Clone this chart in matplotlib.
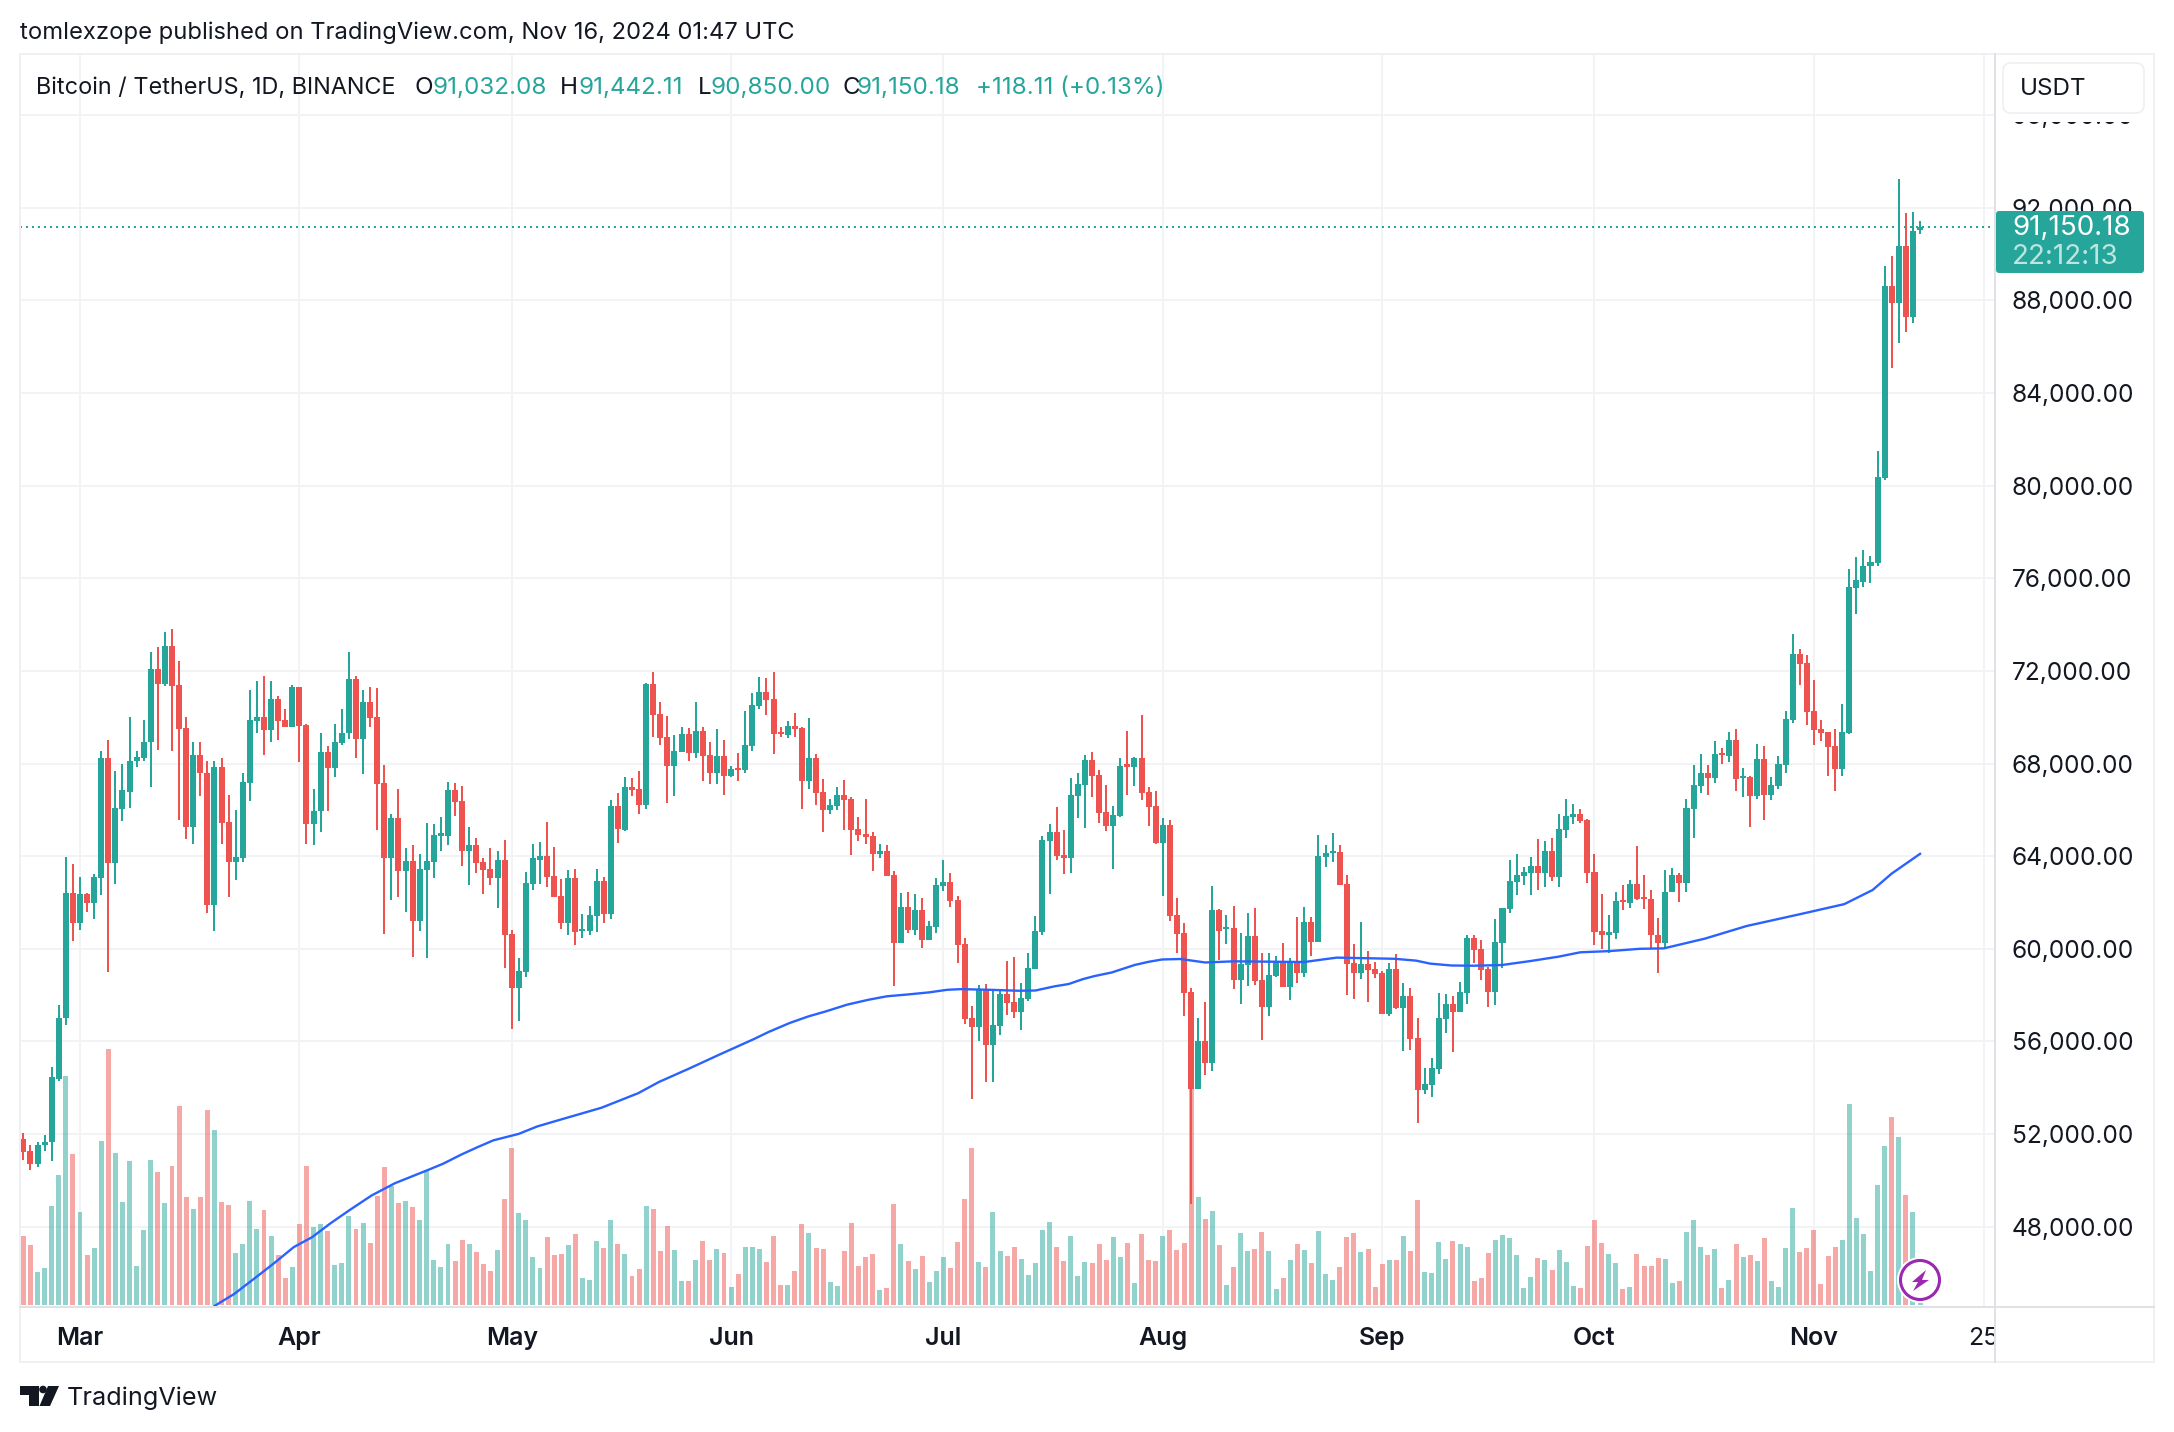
import matplotlib
matplotlib.use("Agg")
import matplotlib.pyplot as plt
from matplotlib.patches import Rectangle, FancyBboxPatch, Circle, Polygon
import numpy as np
import pandas as pd

plt.rcParams["font.family"] = ["Inter", "DejaVu Sans"]

TEAL = "#26a69a"
RED = "#ef5350"
GRID = "#f2f3f5"
FRAME = "#f0f0f4"
SEP = "#e0e1e5"
INK = "#131722"

# daily candles, 2024-02-22 to 2024-11-16
opens = [
    51810, 51250, 50690, 51510, 51650, 54400, 57000, 62425, 61100, 62380,
    61960, 63070, 68260, 63690, 66020, 66790, 68090, 68260, 68910, 72070,
    71420, 73060, 71370, 69520, 65240, 68390, 67610, 61910, 67830, 65490,
    63770, 63940, 67180, 69820, 69990, 69430, 70770, 69860, 69560, 71290,
    69650, 65410, 65930, 68480, 67790, 68870, 69300, 71630, 69080, 70640,
    69990, 67140, 63900, 65670, 63380, 63810, 61220, 63420, 63770, 64890,
    64890, 66840, 66400, 64240, 64500, 63770, 63460, 63070, 63850, 60650,
    58320, 59010, 62810, 63850, 64020, 63160, 62290, 61130, 63060, 60780,
    60780, 61420, 62930, 61510, 66170, 65130, 66990, 66900, 66210, 71430,
    70130, 69140, 67890, 68490, 69270, 68450, 69400, 68360, 67590, 68320,
    67460, 67800, 67720, 68750, 70480, 71080, 70780, 69360, 69230, 69610,
    69530, 67240, 68240, 66770, 65990, 66170, 66640, 66470, 65170, 64960,
    64870, 64090, 64220, 63190, 60260, 61810, 60820, 61680, 60390, 60950,
    62720, 62890, 62110, 60220, 57020, 56630, 58230, 55860, 56680, 58060,
    57700, 57280, 57850, 59140, 60730, 64660, 65050, 64050, 63920, 66600,
    67090, 68170, 67520, 65920, 65320, 65750, 67960, 67870, 68260, 66790,
    66180, 64580, 65360, 61460, 60680, 58130, 53930, 56010, 55060, 61680,
    60860, 60900, 58650, 59300, 60550, 58650, 57480, 58820, 59470, 58350,
    59430, 58950, 61160, 60300, 63970, 64150, 64190, 62800, 59390, 58950,
    59340, 59120, 58950, 57180, 59120, 57440, 57960, 56140, 53890, 54100,
    54800, 56960, 57610, 57260, 58090, 60470, 60000, 59120, 58130, 60250,
    61720, 62890, 63150, 63280, 63580, 63280, 64230, 63110, 65140, 65710,
    65840, 65580, 63320, 60770, 60600, 60690, 62110, 61980, 62800, 62220,
    62130, 60580, 60270, 62450, 63190, 62850, 66050, 67040, 67600, 67380,
    68440, 68330, 69020, 67380, 67420, 66610, 68200, 66650, 67040, 67940,
    69880, 72720, 72330, 70260, 69490, 69360, 68760, 67770, 69320, 75560,
    75860, 76510, 76680, 80340, 88630, 87900, 90350, 87260, 91032.08,
]
highs = [
    52030, 51510, 51680, 51940, 54880, 57580, 63980, 63680, 63120, 62420,
    63250, 68520, 69000, 67660, 68000, 69990, 68520, 69900, 72800, 73020,
    73670, 73800, 72410, 70030, 68910, 68950, 68130, 68090, 68260, 66660,
    66010, 67610, 71160, 71550, 71760, 71550, 70900, 70340, 71370, 71290,
    69690, 66920, 69300, 68740, 69690, 70340, 72800, 71760, 71160, 71290,
    71250, 67920, 65840, 66880, 64370, 64500, 64110, 65450, 65410, 65710,
    67220, 67180, 67050, 65280, 64800, 63940, 64370, 64240, 64720, 60830,
    59620, 63330, 64540, 64630, 65490, 64410, 63020, 63400, 63450, 61510,
    61850, 63450, 63100, 66420, 66730, 67420, 67370, 67680, 71470, 71940,
    70650, 70050, 69230, 69570, 69530, 70650, 69570, 68920, 69490, 69010,
    67890, 68450, 70260, 71040, 71730, 71680, 71940, 69570, 69830, 70170,
    69570, 69960, 68410, 67330, 66470, 66990, 67290, 66550, 65690, 66470,
    65050, 64530, 64480, 63360, 62420, 62460, 62370, 62200, 61210, 63060,
    63840, 63280, 62290, 60480, 57540, 58450, 58480, 58280, 58280, 59480,
    59660, 58530, 59830, 61420, 64870, 65390, 66120, 65130, 67370, 67590,
    68350, 68480, 67740, 67090, 66180, 68220, 69390, 68300, 70080, 67000,
    66830, 65660, 65580, 62200, 61120, 58300, 57000, 57700, 62720, 61720,
    61460, 61850, 60680, 61550, 61770, 59820, 59820, 59690, 60250, 59600,
    61380, 61810, 61380, 64930, 64500, 65010, 64490, 63190, 60210, 61160,
    59900, 59430, 59040, 59380, 59770, 58520, 58300, 57000, 54840, 55270,
    58090, 58040, 57960, 58560, 60600, 60600, 60380, 59210, 61290, 61770,
    63840, 64100, 63540, 63970, 64750, 64670, 64800, 65840, 66480, 66270,
    66050, 65620, 64100, 62370, 61460, 62460, 62760, 62980, 64450, 63200,
    62540, 61320, 63420, 63480, 63280, 66480, 67940, 68420, 67940, 68970,
    68670, 69360, 69490, 67810, 67470, 68840, 68760, 67430, 68330, 70260,
    73580, 72930, 72670, 71600, 69880, 69360, 69490, 70570, 76420, 76900,
    77240, 76940, 81490, 89490, 89920, 93230, 91770, 91810, 91442.11,
]
lows = [
    50900, 50470, 50560, 51250, 50860, 54300, 56690, 60350, 60800, 61570,
    61300, 62310, 59020, 62790, 65540, 66100, 67870, 68090, 67000, 68600,
    71330, 68560, 65580, 64760, 64540, 66580, 61560, 60780, 64540, 62250,
    62990, 63770, 66400, 69300, 68350, 68910, 69000, 69560, 69560, 68050,
    64540, 64500, 65060, 65970, 67440, 68820, 69040, 68220, 67530, 69560,
    65110, 60650, 62120, 62250, 61600, 59660, 60780, 59620, 63070, 64240,
    64500, 65750, 63590, 62770, 63290, 62380, 62770, 61780, 59180, 56540,
    56890, 58790, 62550, 62810, 62680, 62250, 60860, 60600, 60170, 60470,
    60600, 60730, 61120, 61300, 64570, 65090, 66600, 65820, 66040, 69140,
    68800, 66300, 66600, 68490, 68110, 68230, 67240, 67110, 67110, 66640,
    67420, 67240, 67590, 68540, 70350, 70090, 68410, 69140, 69100, 69140,
    66040, 66900, 66210, 65050, 65820, 65990, 65130, 64050, 64660, 64530,
    63360, 63920, 63150, 58410, 60260, 60690, 60600, 60040, 60390, 60690,
    62500, 61810, 59400, 56770, 53500, 56000, 54260, 54260, 56290, 57150,
    57030, 56500, 57760, 59140, 60600, 62370, 63840, 63230, 63280, 65640,
    65210, 66570, 65450, 65100, 63450, 65710, 66660, 67050, 66440, 65320,
    64540, 62290, 61200, 59820, 57090, 49000, 53930, 54540, 54710, 59510,
    60210, 58260, 57610, 58390, 58430, 56050, 57090, 58780, 58350, 57780,
    58520, 58780, 59690, 60300, 63540, 63760, 62760, 58000, 57830, 58690,
    57700, 58740, 57190, 57090, 57390, 55580, 55620, 52500, 53710, 53590,
    54580, 56360, 55530, 57610, 57610, 59380, 58650, 57480, 57570, 59170,
    61550, 62330, 62760, 62330, 62550, 62670, 62930, 62670, 64800, 65400,
    65450, 62850, 60170, 59990, 59820, 60430, 61680, 61770, 62110, 61700,
    60000, 58950, 60050, 62450, 62040, 62440, 64800, 66740, 66650, 67170,
    67980, 68070, 66820, 66560, 65270, 66480, 65580, 66440, 66910, 67600,
    69750, 71380, 69660, 68800, 68970, 67470, 66820, 67470, 69280, 74450,
    75610, 75780, 76550, 80250, 85060, 86140, 86650, 87040, 90850,
]
closes = [
    51210, 50690, 51550, 51680, 54450, 57020, 62425, 61100, 62380, 61960,
    63120, 68260, 63690, 66060, 66840, 68130, 68300, 68950, 72070, 71420,
    73060, 71330, 69470, 65240, 68390, 67570, 61910, 67830, 65450, 63770,
    63980, 67220, 69860, 69990, 69430, 70770, 69820, 69560, 71290, 69600,
    65410, 65970, 68480, 67790, 68910, 69340, 71630, 69080, 70640, 69950,
    67100, 63900, 65670, 63380, 63810, 61220, 63460, 63810, 64930, 64980,
    66840, 66360, 64240, 64500, 63720, 63420, 63070, 63850, 60610, 58320,
    59050, 62860, 63900, 64020, 63120, 62250, 61130, 63060, 60730, 60860,
    61470, 62930, 61510, 66170, 65170, 66990, 66860, 66210, 71430, 70090,
    69100, 67890, 68540, 69270, 68450, 69400, 68320, 67590, 68320, 67460,
    67760, 67720, 68790, 70520, 71080, 70740, 69270, 69270, 69610, 69490,
    67240, 68240, 66730, 65990, 66210, 66640, 66420, 65130, 64920, 64830,
    64090, 64220, 63150, 60260, 61810, 60820, 61680, 60390, 60990, 62760,
    62890, 62070, 60170, 56980, 56630, 58230, 55860, 56710, 58060, 57670,
    57280, 57890, 59180, 60780, 64700, 65050, 64010, 63920, 66640, 67110,
    68170, 67480, 65880, 65320, 65790, 67910, 67870, 68260, 66740, 66140,
    64580, 65360, 61420, 60640, 58090, 53930, 56010, 55060, 61680, 60770,
    60940, 58650, 59340, 60550, 58610, 57480, 58870, 59470, 58350, 59430,
    58950, 61160, 60300, 64020, 64150, 64230, 62760, 59340, 58950, 59340,
    59080, 58910, 57190, 59120, 57440, 57960, 56100, 53890, 54150, 54840,
    57000, 57610, 57260, 58130, 60470, 59950, 59080, 58130, 60300, 61770,
    62930, 63190, 63320, 63580, 63280, 64230, 63110, 65190, 65750, 65840,
    65530, 63280, 60730, 60600, 60730, 62070, 62020, 62800, 62150, 62130,
    60580, 60270, 62450, 63190, 62850, 66090, 67080, 67600, 67380, 68420,
    68380, 69020, 67340, 67470, 66610, 68200, 66650, 67080, 67980, 69920,
    72720, 72290, 70220, 69450, 69320, 68720, 67770, 69360, 75610, 75910,
    76550, 76720, 80380, 88630, 87900, 90350, 87260, 91000, 91150.18,
]
volumes = [
    208, 181, 100, 112, 298, 391, 688, 454, 280, 151,
    172, 493, 769, 457, 310, 433, 118, 226, 436, 400,
    307, 418, 598, 325, 289, 325, 586, 526, 310, 301,
    157, 184, 313, 229, 286, 208, 151, 82, 115, 244,
    418, 235, 244, 223, 121, 127, 268, 229, 247, 187,
    328, 415, 358, 307, 313, 295, 256, 406, 136, 115,
    184, 133, 196, 184, 160, 124, 103, 166, 319, 472,
    277, 256, 145, 112, 205, 151, 154, 181, 214, 82,
    76, 193, 172, 256, 184, 154, 88, 109, 298, 289,
    163, 238, 166, 73, 73, 136, 193, 136, 169, 157,
    55, 94, 175, 175, 169, 130, 208, 61, 61, 103,
    244, 217, 172, 169, 70, 58, 163, 247, 118, 145,
    154, 46, 52, 304, 184, 133, 109, 148, 70, 103,
    145, 112, 190, 319, 472, 130, 115, 280, 163, 148,
    175, 139, 91, 127, 226, 250, 175, 133, 208, 88,
    130, 127, 184, 136, 205, 145, 187, 67, 214, 136,
    133, 208, 226, 166, 187, 750, 325, 259, 283, 181,
    61, 115, 217, 163, 169, 220, 163, 49, 82, 136,
    184, 166, 127, 223, 94, 76, 115, 205, 217, 160,
    169, 55, 124, 136, 136, 208, 163, 316, 100, 97,
    190, 138, 192, 183, 174, 72, 81, 156, 195, 210,
    201, 150, 51, 84, 141, 135, 105, 165, 129, 57,
    51, 177, 255, 186, 153, 126, 48, 54, 153, 117,
    117, 141, 138, 66, 72, 219, 255, 174, 150, 168,
    51, 75, 183, 144, 150, 132, 201, 72, 54, 171,
    291, 159, 171, 225, 63, 147, 174, 195, 603, 261,
    213, 102, 360, 477, 564, 504, 330, 279, 5,
]

# moving average, sampled along the blue line (candle number, price)
ma_idx = [
    27, 29.8, 33, 35.6, 38.2, 40.8, 43.4, 46, 49.2, 52.5, 57, 59.3, 61.9, 64.2,
    66.4, 70, 72.6, 75.5, 81.7, 86.9, 89.8, 94, 98.4, 103.2, 105.3, 108.3,
    110.9, 113.4, 116.4, 119.4, 122, 125, 128, 130.5, 132.5, 136.6, 140.6, 143,
    145.7, 147.7, 149.7, 151.3, 153.8, 157, 159, 160.9, 163.5, 167, 171, 181,
    183.6, 185.6, 193.7, 196.8, 198.8, 201.8, 204.8, 208.9, 212.9, 216.9, 220,
    224, 228.4, 231.8, 237.6, 243.5, 251.4, 257.3, 261.3, 264, 268,
]
ma_val = [
    44580, 45100, 45850, 46470, 47120, 47550, 48150, 48700, 49350, 49880, 50430,
    50720, 51120, 51440, 51730, 52010, 52330, 52590, 53140, 53770, 54250, 54820,
    55440, 56100, 56410, 56800, 57080, 57300, 57590, 57800, 57950, 58030, 58120,
    58230, 58260, 58230, 58190, 58200, 58380, 58480, 58690, 58820, 58980, 59300,
    59440, 59540, 59560, 59410, 59460, 59430, 59540, 59620, 59570, 59490, 59360,
    59280, 59270, 59300, 59470, 59660, 59850, 59900, 60000, 60020, 60440, 60985,
    61520, 61930, 62540, 63250, 64100,
]

first_day = pd.Timestamp("2024-02-22")
month_days = ["2024-03-01", "2024-04-01", "2024-05-01", "2024-06-01", "2024-07-01",
              "2024-08-01", "2024-09-01", "2024-10-01", "2024-11-01", "2024-11-25"]
month_labels = ["Mar", "Apr", "May", "Jun", "Jul", "Aug", "Sep", "Oct", "Nov", "25"]
price_ticks = list(range(48000, 100000, 4000))
last_price = 91150.18

W, H = 2174, 1432
fig = plt.figure(figsize=(W / 100, H / 100), dpi=100, facecolor="white")
rect = [20 / W, (H - 1306) / H, 1975 / W, 1251 / H]

# pane maps: x = 23.4 + 7.077 * candle, y = 207.7 + (92000 - price) * 0.02316
xlim = ((20 - 23.4) / 7.077, (1995 - 23.4) / 7.077)
ylim = (92000 - (1306 - 207.7) / 0.02316, 92000 + (207.7 - 55) / 0.02316)

ax = fig.add_axes(rect, zorder=1)
ax.set_xlim(xlim)
ax.set_ylim(ylim)
tick_x = [(pd.Timestamp(d) - first_day).days for d in month_days]
ax.set_xticks(tick_x)
ax.set_xticklabels(month_labels)
ax.set_yticks(price_ticks)
ax.set_yticklabels([f"{p:,.2f}" for p in price_ticks])
ax.yaxis.tick_right()
ax.tick_params(axis="y", length=0, pad=12, labelsize=17.6, labelcolor=INK)
ax.tick_params(axis="x", length=0, pad=15, labelsize=18, labelcolor=INK)
for lab in ax.get_xticklabels()[:-1]:
    lab.set_fontweight("semibold")
ax.grid(True, color=GRID, lw=1.44)
ax.set_axisbelow(True)
for s in ax.spines.values():
    s.set_visible(False)

x = np.arange(len(closes))
o = np.array(opens)
c = np.array(closes)
up = c >= o
colors = np.where(up, TEAL, RED)

ax_vol = fig.add_axes(rect, sharex=ax, zorder=2)
ax_vol.patch.set_visible(False)
ax_vol.axis("off")
ax_vol.set_ylim(-3, 1250 * 3)  # 3 volume units to the pixel, no scale shown
ax_vol.bar(x, volumes, width=0.7, color=colors, alpha=0.5, linewidth=0, antialiased=False)

ax_p = fig.add_axes(rect, sharex=ax, sharey=ax, zorder=3)
ax_p.patch.set_visible(False)
ax_p.axis("off")
ax_p.vlines(x, lows, highs, colors=colors, lw=1.44, antialiased=False)
body_low = np.minimum(o, c)
body_h = np.maximum(np.abs(c - o), 90)
ax_p.bar(x, body_h, bottom=body_low, width=0.85, color=colors, linewidth=0, antialiased=False)
ax_p.axhline(last_price, color=TEAL, lw=1.44, linestyle=(0, (1, 2)), dash_capstyle="butt")
ax_p.plot(ma_idx, ma_val, color="#2962ff", lw=1.7, solid_joinstyle="round")
ax.set_xlim(xlim)
ax.set_ylim(ylim)

# everything around the pane, in screen pixels
ov = fig.add_axes([0, 0, 1, 1], zorder=5)
ov.set_xlim(0, W)
ov.set_ylim(H, 0)
ov.axis("off")

ov.add_patch(Rectangle((1996, 1308), 157, 53, color="white", lw=0))  # cuts the "25"
ov.plot([20, 2154, 2154, 20, 20], [54, 54, 1362, 1362, 54], color=FRAME, lw=1.44)
ov.plot([1995, 1995], [54, 1362], color=SEP, lw=1.44)
ov.plot([20, 2154], [1306.5, 1306.5], color=SEP, lw=1.44)

ov.add_patch(Rectangle((2000, 108), 148, 14, color="white", lw=0))  # hides most of 96,000.00
ov.add_patch(FancyBboxPatch((2003, 63), 141, 50, boxstyle="round,pad=0,rounding_size=8",
                            fc="white", ec=FRAME, lw=1.2))
ov.text(2020, 89, "USDT", fontsize=17.4, color=INK, va="center", ha="left")

ov.add_patch(FancyBboxPatch((1996, 211), 148, 62, boxstyle="round,pad=0,rounding_size=3",
                            fc=TEAL, ec="none"))
ov.text(2012, 228.5, f"{last_price:,.2f}", fontsize=20, color="white", va="center", ha="left")
ov.text(2012, 257, "22:12:13", fontsize=20, color="#bfe5e1", va="center", ha="left")

ov.text(20, 32.5, "tomlexzope published on TradingView.com, Nov 16, 2024 01:47 UTC",
        fontsize=17.1, color=INK, va="center", ha="left")
ov.text(36, 88, "Bitcoin / TetherUS, 1D, BINANCE", fontsize=16.9, color=INK, va="center")
for xp, s, col in [(415, "O", INK), (433, "91,032.08", TEAL), (560, "H", INK), (578, "91,442.11", TEAL),
                   (698, "L", INK), (710, "90,850.00", TEAL), (842, "C", INK), (857, "91,150.18", TEAL),
                   (976, "+118.11 (+0.13%)", TEAL)]:
    ov.text(xp, 88, s, fontsize=17.4, color=col, va="center")

# TradingView mark and name
ov.add_patch(Polygon([(20, 1386), (39, 1386), (39, 1406), (29, 1406), (29, 1395), (20, 1395)], fc=INK, ec="none"))
ov.add_patch(Circle((43, 1389.5), 3.8, fc=INK, ec="none"))
ov.add_patch(Polygon([(48, 1386), (59, 1386), (50, 1406), (39.5, 1406)], fc=INK, ec="none"))
ov.text(66.5, 1398.5, "TradingView", fontsize=18.2, color=INK, va="center")

# lightning badge
ov.add_patch(Circle((1920, 1280), 23, fc="white", ec="none"))
ov.add_patch(Circle((1920, 1280), 19.5, fc="white", ec="#9c27b0", lw=2.2))
ov.add_patch(Polygon([(1926, 1270), (1912, 1282), (1918, 1282), (1913, 1291), (1929, 1280), (1922, 1280)],
                     fc="#9c27b0", ec="none"))

fig.savefig("out.png", dpi=100)
